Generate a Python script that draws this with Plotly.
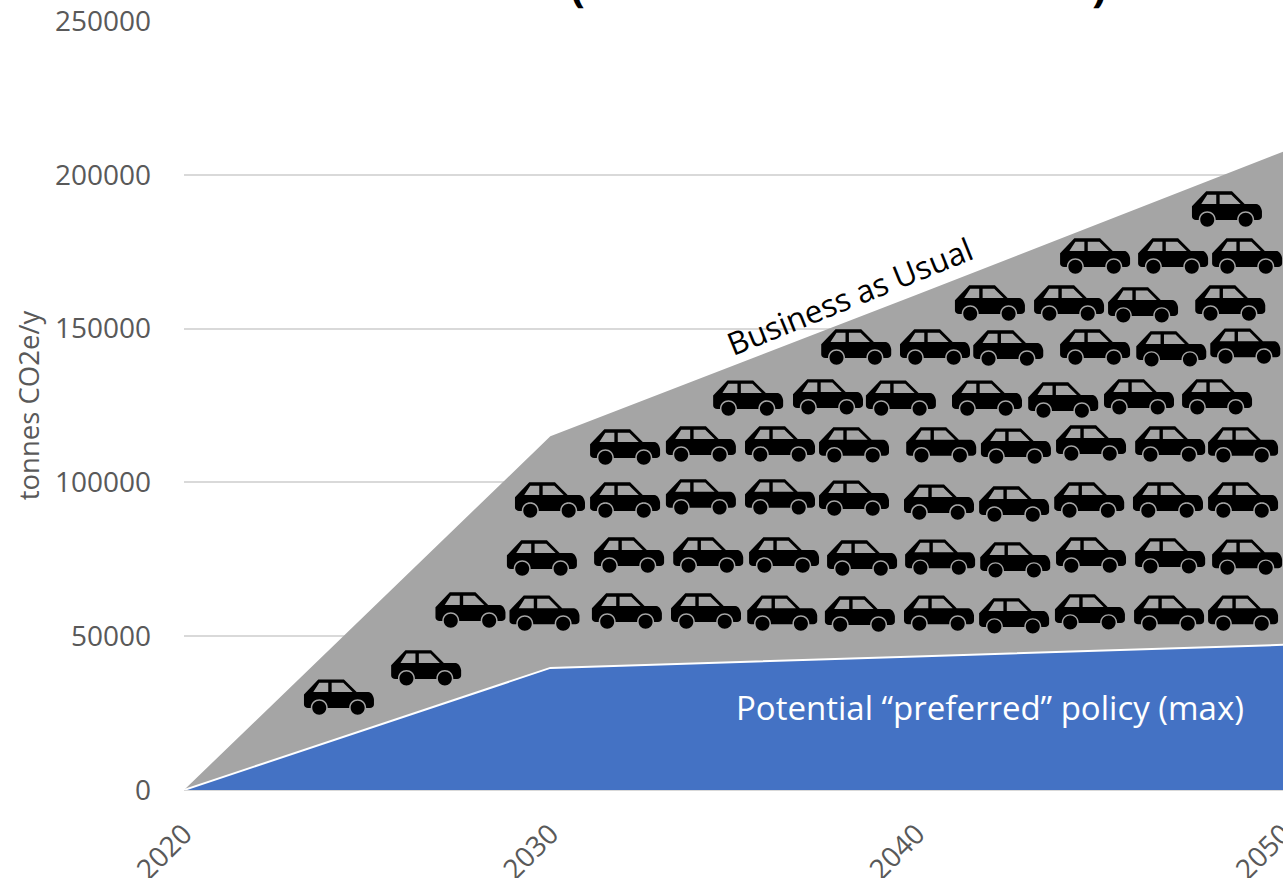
import plotly.graph_objects as go

FONT = "Open Sans"
GREY_TEXT = "#595959"

years = [2020, 2030, 2040, 2050]
business_as_usual = [0, 115000, 161000, 207500]
preferred_policy = [0, 39700, 43400, 47200]
tick_years = [2020, 2030, 2040, 2050]
tick_tonnes = [0, 50000, 100000, 150000, 200000, 250000]

car_years = (
    [2024.23, 2026.61]
    + [2027.82, 2029.84, 2032.09, 2034.25, 2036.33, 2038.45, 2040.61, 2042.66, 2044.73, 2046.89, 2048.91]
    + [2029.77, 2032.15, 2034.31, 2036.38, 2038.51, 2040.64, 2042.69, 2044.76, 2046.92, 2049.02]
    + [2029.99, 2032.04, 2034.11, 2036.27, 2038.29, 2040.61, 2042.66, 2044.71, 2046.86, 2048.91]
    + [2032.04, 2034.11, 2036.27, 2038.29, 2040.67, 2042.71, 2044.76, 2046.92, 2048.91]
    + [2035.40, 2037.58, 2039.57, 2041.92, 2044.00, 2046.07, 2048.20]
    + [2038.35, 2040.50, 2042.50, 2044.87, 2046.95, 2048.97]
    + [2042.00, 2044.16, 2046.18, 2048.56]
    + [2044.87, 2047.00, 2049.02]
    + [2048.47]
)
car_tonnes = (
    [30200, 39700]
    + [58500, 57500, 58200, 58200, 57500, 57200, 57500, 56600, 57900, 57500, 57500]
    + [75400, 76400, 76400, 76400, 75400, 75700, 74800, 76400, 76100, 75700]
    + [94300, 94300, 95300, 95300, 94900, 93600, 93000, 94300, 94300, 94300]
    + [111500, 112500, 112500, 112200, 112200, 111800, 112800, 112500, 112200]
    + [127400, 127800, 127400, 127400, 126800, 127800, 127800]
    + [144000, 144000, 143700, 144000, 143400, 144300]
    + [158300, 158300, 157700, 158300]
    + [173600, 173600, 173600]
    + [188900]
)


def wheel(cx, cy, r):
    k = 0.552 * r
    return (
        f"M {cx - r} {cy} "
        f"C {cx - r} {cy + k} {cx - k} {cy + r} {cx} {cy + r} "
        f"C {cx + k} {cy + r} {cx + r} {cy + k} {cx + r} {cy} "
        f"C {cx + r} {cy - k} {cx + k} {cy - r} {cx} {cy - r} "
        f"C {cx - k} {cy - r} {cx - r} {cy - k} {cx - r} {cy} Z "
    )


# car icon in pixels around its centre, y pointing up
CAR_PATH = (
    "M -35 2.7 L -20.7 17.7 L 5 17.7 L 17.7 5 L 29.3 5 "
    "C 33 5 35 -0.5 35 -2.3 L 35 -7.5 C 35 -9.5 33 -11 31 -11 L 27.2 -11 "
    "C 27.2 0.7 10.2 0.7 10.2 -11 L -11.2 -11 "
    "C -11.2 0.7 -28.2 0.7 -28.2 -11 L -31 -11 C -33 -11 -35 -9.5 -35 -7.5 Z "
    "M -25.7 5 L -10.7 5 L -10.7 14.3 L -19.7 14.3 Z "
    "M -7.3 5 L 13.7 5 L 4.3 14.3 L -7.3 14.3 Z "
    + wheel(-19.7, -10.7, 7)
    + wheel(18.7, -10.7, 7)
)

fig = go.Figure()
fig.add_trace(
    go.Scatter(
        x=years,
        y=business_as_usual,
        mode="lines",
        line=dict(width=0),
        fill="tozeroy",
        fillcolor="#a5a5a5",
    )
)
fig.add_trace(
    go.Scatter(
        x=years,
        y=preferred_policy,
        mode="lines",
        line=dict(width=2, color="white"),
        fill="tozeroy",
        fillcolor="#4472c4",
    )
)

fig.update_layout(
    width=1283,
    height=878,
    margin=dict(l=184, r=0, t=21, b=88),
    paper_bgcolor="white",
    plot_bgcolor="white",
    showlegend=False,
    font=dict(family=FONT, size=28, color=GREY_TEXT),
    xaxis=dict(
        range=[2020, 2050],
        tickvals=tick_years,
        tickangle=-45,
        showgrid=False,
        zeroline=False,
        ticks="",
        automargin=False,
        ticklabelstandoff=21,
        ticklabeloverflow="allow",
    ),
    yaxis=dict(
        range=[0, 250000],
        tickvals=tick_tonnes,
        tickformat="d",
        gridcolor="#d9d9d9",
        gridwidth=1.5,
        zeroline=True,
        zerolinecolor="#d9d9d9",
        zerolinewidth=1.5,
        ticks="",
        automargin=False,
        ticklabelstandoff=32,
        ticklabeloverflow="allow",
        title=dict(text="tonnes CO2e/y", font=dict(size=27.5), standoff=7),
    ),
    shapes=[
        dict(
            type="path",
            path=CAR_PATH,
            xsizemode="pixel",
            ysizemode="pixel",
            xanchor=x,
            yanchor=y,
            xref="x",
            yref="y",
            fillcolor="black",
            line=dict(width=0),
            layer="above",
        )
        for x, y in zip(car_years, car_tonnes)
    ],
    annotations=[
        dict(
            x=2038.18,
            y=160600,
            text="Business as Usual",
            textangle=-22,
            showarrow=False,
            font=dict(size=31.5, color="black"),
        ),
        dict(
            x=2042,
            y=26660,
            text="Potential “preferred” policy (max)",
            showarrow=False,
            font=dict(size=33, color="white"),
        ),
        # the chart title is cut off by the top of the picture, only the brackets show
        dict(
            x=2030.75,
            y=1,
            yref="paper",
            yanchor="bottom",
            yshift=5,
            text="<b>(</b>",
            showarrow=False,
            font=dict(size=44, color="black"),
        ),
        dict(
            x=2045.0,
            y=1,
            yref="paper",
            yanchor="bottom",
            yshift=5,
            text="<b>)</b>",
            showarrow=False,
            font=dict(size=44, color="black"),
        ),
    ],
)

# page margin would push the chart 8px off the picture
fig.write_html(
    "out.html",
    config={"displayModeBar": False},
    post_script="document.body.style.margin = '0';",
)
